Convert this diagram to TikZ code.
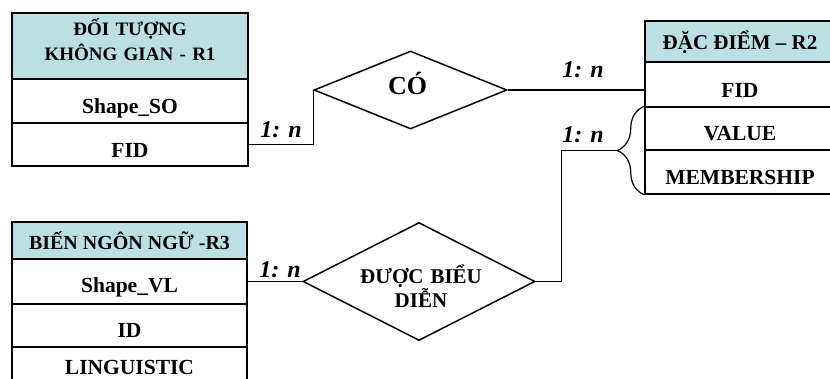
\documentclass[tikz,border=0pt]{standalone}
\usepackage{fontspec}
\setmainfont{Liberation Serif}
\usetikzlibrary{shapes.geometric,calc,decorations.pathreplacing}
\definecolor{hdr}{RGB}{187,223,226}
\begin{document}
\begin{tikzpicture}[x=1pt,y=-1pt,
  cell/.style={draw, line width=1.5pt, inner sep=0pt},
  rowtext/.style={anchor=base, inner sep=0pt, font=\fontsize{21.5}{24}\selectfont\bfseries},
  hdrtext/.style={anchor=base, inner sep=0pt, align=center},
  dia/.style={diamond, draw, line width=1.5pt, inner sep=0pt},
  lab/.style={anchor=base, inner sep=0pt, font=\fontsize{24}{26}\selectfont\bfseries\itshape},
  conn/.style={line width=1.5pt}]
\useasboundingbox (0,0) rectangle (830,378);
\clip (0,0) rectangle (830,378);

% R1
\node[cell, fill=hdr, minimum width=236pt, minimum height=66pt] (r1h) at (130,46) {};
\node[cell, minimum width=236pt, minimum height=44pt] (r1s) at (130,101) {};
\node[cell, minimum width=236pt, minimum height=43pt] (r1f) at (130,144.5) {};
\node[hdrtext, text width=230pt, font=\fontsize{19}{25}\selectfont\bfseries] (t1h) at (130,35) {ĐỐI TƯỢNG\\KHÔNG GIAN - R1};
\node[rowtext] (t1s) at ($(r1s.center)+(0,12.5)$) {Shape\_SO};
\node[rowtext] (t1f) at ($(r1f.center)+(0,12.5)$) {FID};

% R2
\node[cell, fill=hdr, minimum width=190pt, minimum height=41pt] (r2h) at (740,41.5) {};
\node[cell, minimum width=190pt, minimum height=45pt] (r2f) at (740,84.5) {};
\node[cell, minimum width=190pt, minimum height=43pt] (r2v) at (740,128.5) {};
\node[cell, minimum width=190pt, minimum height=44pt] (r2m) at (740,172) {};
\node[hdrtext, font=\fontsize{21}{24}\selectfont\bfseries] (t2h) at ($(r2h.center)+(0,8)$) {ĐẶC ĐIỂM – R2};
\node[rowtext] (t2f) at ($(r2f.center)+(0,12.5)$) {FID};
\node[rowtext] (t2v) at ($(r2v.center)+(0,12)$) {VALUE};
\node[rowtext] (t2m) at ($(r2m.center)+(0,12.5)$) {MEMBERSHIP};

% R3
\node[cell, fill=hdr, minimum width=235pt, minimum height=37pt] (r3h) at (129.5,240.5) {};
\node[cell, minimum width=235pt, minimum height=45pt] (r3s) at (129.5,281.5) {};
\node[cell, minimum width=235pt, minimum height=43pt] (r3i) at (129.5,325.5) {};
\node[cell, minimum width=235pt, minimum height=34pt] (r3l) at (129.5,364) {};
\node[hdrtext, font=\fontsize{20}{22}\selectfont\bfseries] (t3h) at ($(r3h.center)+(0,8.5)$) {BIẾN NGÔN NGỮ -R3};
\node[rowtext] (t3s) at ($(r3s.center)+(0,11)$) {Shape\_VL};
\node[rowtext] (t3i) at ($(r3i.center)+(0,12)$) {ID};
\node[rowtext] (t3l) at ($(r3l.center)+(0,10)$) {LINGUISTIC};

% diamonds
\node[dia, minimum width=193pt, minimum height=78pt] (d1) at (410.5,90) {};
\node[anchor=base, inner sep=0pt, font=\fontsize{26}{28}\selectfont\bfseries] (td1) at ($(d1.center)+(-3,4)$) {CÓ};
\node[dia, minimum width=232pt, minimum height=118pt] (d2) at (419,281.5) {};
\node[hdrtext, text width=150pt, font=\fontsize{21}{23}\selectfont\bfseries] (td2) at (421,283) {ĐƯỢC BIỂU\\DIỄN};

% brace
\draw[line width=1.2pt, decorate, decoration={brace, amplitude=27pt}] (r2m.south west) -- (r2v.north west);
\coordinate (tip) at ($(r2v.north west)!0.5!(r2m.south west)+(-27,0)$);
\coordinate (k) at ($(tip)+(-56,0)$);

% connectors
\draw[conn] (r1f.east) -| (d1.west);
\draw[conn] (d1.east) -- (d1.east -| r2f.west);
\draw[conn] (r3s.east) -- (d2.west);
\draw[conn] (d2.east) -| (k) -- (tip);

% labels
\node[lab] (l1) at (281,137) {1: n};
\node[lab] (l2) at (583,77) {1: n};
\node[lab] (l3) at (583,142) {1: n};
\node[lab] (l4) at (280,277) {1: n};
\end{tikzpicture}
\end{document}
